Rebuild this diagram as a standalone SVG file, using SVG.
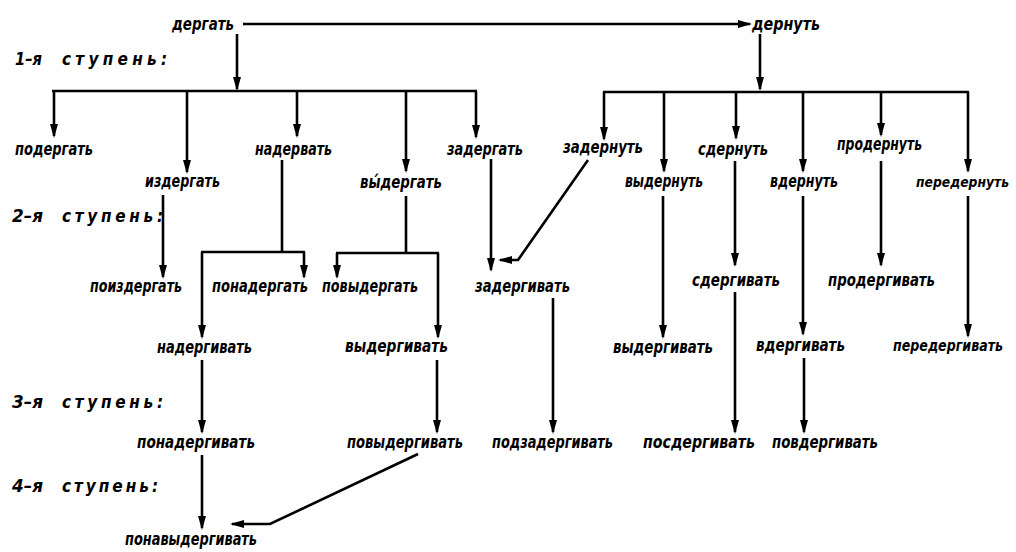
<svg xmlns="http://www.w3.org/2000/svg" width="1016" height="552" viewBox="0 0 1016 552">
<defs>
<marker id="ah" markerUnits="userSpaceOnUse" markerWidth="15" markerHeight="9" refX="12" refY="4" orient="auto">
<path d="M0,0 L14,4 L0,8 z" fill="#000"/>
</marker>
</defs>
<style>
.w{font-family:"DejaVu Sans Condensed","DejaVu Sans",sans-serif;font-style:italic;font-weight:bold;font-size:17px;fill:#000}
.s{font-size:15px}
.t{font-size:14px}
.l{font-family:"DejaVu Sans Condensed","DejaVu Sans",sans-serif;font-style:italic;font-weight:bold;font-size:17px;fill:#000}
.c line,.c path,.c polyline{stroke:#000;stroke-width:2.6;fill:none}
.a{marker-end:url(#ah)}
</style>
<rect width="1016" height="552" fill="#fff"/>
<g id="levels">
<text class="l" x="15" y="65" textLength="27" lengthAdjust="spacingAndGlyphs">1–я</text>
<text class="l" x="62" y="65" textLength="105" lengthAdjust="spacing">ступень:</text>
<text class="l" x="12" y="222" textLength="31" lengthAdjust="spacingAndGlyphs">2–я</text>
<text class="l" x="62" y="222" textLength="101" lengthAdjust="spacing">ступень:</text>
<text class="l" x="12" y="408" textLength="31" lengthAdjust="spacingAndGlyphs">3–я</text>
<text class="l" x="62" y="408" textLength="101" lengthAdjust="spacing">ступень:</text>
<text class="l" x="12" y="492" textLength="31" lengthAdjust="spacingAndGlyphs">4–я</text>
<text class="l" x="62" y="492" textLength="96" lengthAdjust="spacing">ступень:</text>
</g>
<g id="n-dergat"><text class="w" x="172" y="30" textLength="62" lengthAdjust="spacingAndGlyphs">дергать</text></g>
<g id="n-dernut"><text class="w" x="752" y="30" textLength="68" lengthAdjust="spacingAndGlyphs">дернуть</text></g>
<g id="n-podergat"><text class="w" x="15" y="155" textLength="78" lengthAdjust="spacingAndGlyphs">подергать</text></g>
<g id="n-izdergat"><text class="w" x="145" y="187" textLength="75" lengthAdjust="spacingAndGlyphs">издергать</text></g>
<g id="n-nadervat"><text class="w" x="255" y="155" textLength="77" lengthAdjust="spacingAndGlyphs">надервать</text></g>
<g id="n-vydergat"><text class="w" x="360" y="188" textLength="82" lengthAdjust="spacingAndGlyphs">вы́дергать</text></g>
<g id="n-zadergat"><text class="w" x="447" y="155" textLength="76" lengthAdjust="spacingAndGlyphs">задергать</text></g>
<g id="n-zadernut"><text class="w" x="563" y="153" textLength="80" lengthAdjust="spacingAndGlyphs">задернуть</text></g>
<g id="n-vydernut"><text class="w" x="625" y="187" textLength="78" lengthAdjust="spacingAndGlyphs">выдернуть</text></g>
<g id="n-sdernut"><text class="w" x="698" y="155" textLength="70" lengthAdjust="spacingAndGlyphs">сдернуть</text></g>
<g id="n-vdernut"><text class="w" x="770" y="187" textLength="68" lengthAdjust="spacingAndGlyphs">вдернуть</text></g>
<g id="n-prodernut"><text class="w" x="837" y="150" textLength="85" lengthAdjust="spacingAndGlyphs">продернуть</text></g>
<g id="n-peredernut"><text class="w t" x="916" y="187" textLength="93" lengthAdjust="spacingAndGlyphs">передернуть</text></g>
<g id="n-poizdergat"><text class="w" x="90" y="292" textLength="92" lengthAdjust="spacingAndGlyphs">поиздергать</text></g>
<g id="n-ponadergat"><text class="w" x="212" y="292" textLength="96" lengthAdjust="spacingAndGlyphs">понадергать</text></g>
<g id="n-povydergat"><text class="w" x="322" y="292" textLength="96" lengthAdjust="spacingAndGlyphs">повыдергать</text></g>
<g id="n-zadergivat"><text class="w" x="475" y="292" textLength="95" lengthAdjust="spacingAndGlyphs">задергивать</text></g>
<g id="n-nadergivat"><text class="w" x="157" y="353" textLength="95" lengthAdjust="spacingAndGlyphs">надергивать</text></g>
<g id="n-vydergivat1"><text class="w" x="345" y="352" textLength="103" lengthAdjust="spacingAndGlyphs">выдергивать</text></g>
<g id="n-vydergivat2"><text class="w" x="613" y="353" textLength="100" lengthAdjust="spacingAndGlyphs">выдергивать</text></g>
<g id="n-sdergivat"><text class="w" x="692" y="286" textLength="88" lengthAdjust="spacingAndGlyphs">сдергивать</text></g>
<g id="n-prodergivat"><text class="w" x="828" y="286" textLength="107" lengthAdjust="spacingAndGlyphs">продергивать</text></g>
<g id="n-vdergivat"><text class="w" x="756" y="351" textLength="89" lengthAdjust="spacingAndGlyphs">вдергивать</text></g>
<g id="n-peredergivat"><text class="w s" x="893" y="351" textLength="110" lengthAdjust="spacingAndGlyphs">передергивать</text></g>
<g id="n-ponadergivat"><text class="w" x="137" y="448" textLength="118" lengthAdjust="spacingAndGlyphs">понадергивать</text></g>
<g id="n-povydergivat"><text class="w" x="347" y="448" textLength="116" lengthAdjust="spacingAndGlyphs">повыдергивать</text></g>
<g id="n-podzadergivat"><text class="w" x="492" y="448" textLength="121" lengthAdjust="spacingAndGlyphs">подзадергивать</text></g>
<g id="n-posdergivat"><text class="w" x="643" y="448" textLength="112" lengthAdjust="spacingAndGlyphs">посдергивать</text></g>
<g id="n-povdergivat"><text class="w" x="772" y="448" textLength="106" lengthAdjust="spacingAndGlyphs">повдергивать</text></g>
<g id="n-ponavydergivat"><text class="w" x="125" y="545" textLength="132" lengthAdjust="spacingAndGlyphs">понавыдергивать</text></g>
<g id="connectors" class="c">
<line class="a" x1="243" y1="24" x2="750" y2="24"/>
<line class="a" x1="237" y1="34" x2="237" y2="89"/>
<line x1="52" y1="91" x2="477" y2="91"/>
<line class="a" x1="54" y1="91" x2="54" y2="136"/>
<line class="a" x1="187" y1="91" x2="187" y2="172"/>
<line class="a" x1="297" y1="91" x2="297" y2="136"/>
<line class="a" x1="406" y1="91" x2="406" y2="171"/>
<line class="a" x1="476" y1="91" x2="476" y2="137"/>
<line class="a" x1="760" y1="34" x2="760" y2="89"/>
<line x1="603" y1="92" x2="969" y2="92"/>
<line class="a" x1="604" y1="92" x2="604" y2="139"/>
<line class="a" x1="664" y1="92" x2="664" y2="171"/>
<line class="a" x1="736" y1="92" x2="736" y2="138"/>
<line class="a" x1="803" y1="92" x2="803" y2="171"/>
<line class="a" x1="881" y1="92" x2="881" y2="135"/>
<line class="a" x1="968" y1="92" x2="968" y2="171"/>
<line class="a" x1="163" y1="195" x2="163" y2="277"/>
<path d="M282,160 V252"/>
<line x1="201" y1="252" x2="305" y2="252"/>
<line class="a" x1="202" y1="252" x2="202" y2="337"/>
<line class="a" x1="304" y1="252" x2="304" y2="277"/>
<path d="M406,196 V253"/>
<line x1="336" y1="253" x2="439" y2="253"/>
<line class="a" x1="337" y1="253" x2="337" y2="277"/>
<line class="a" x1="438" y1="253" x2="438" y2="337"/>
<line class="a" x1="491" y1="159" x2="491" y2="270"/>
<polyline class="a" points="588,160 518,260 500,260"/>
<line class="a" x1="663" y1="196" x2="663" y2="337"/>
<line class="a" x1="735" y1="161" x2="735" y2="265"/>
<line class="a" x1="881" y1="161" x2="881" y2="265"/>
<line class="a" x1="803" y1="196" x2="803" y2="334"/>
<line class="a" x1="968" y1="196" x2="968" y2="336"/>
<line class="a" x1="202" y1="360" x2="202" y2="432"/>
<line class="a" x1="202" y1="455" x2="202" y2="528"/>
<polyline class="a" points="418,454 270,524 232,524"/>
<line class="a" x1="437" y1="360" x2="437" y2="432"/>
<line class="a" x1="553" y1="298" x2="553" y2="432"/>
<line class="a" x1="735" y1="292" x2="735" y2="432"/>
<line class="a" x1="804" y1="358" x2="804" y2="432"/>
</g>
</svg>
